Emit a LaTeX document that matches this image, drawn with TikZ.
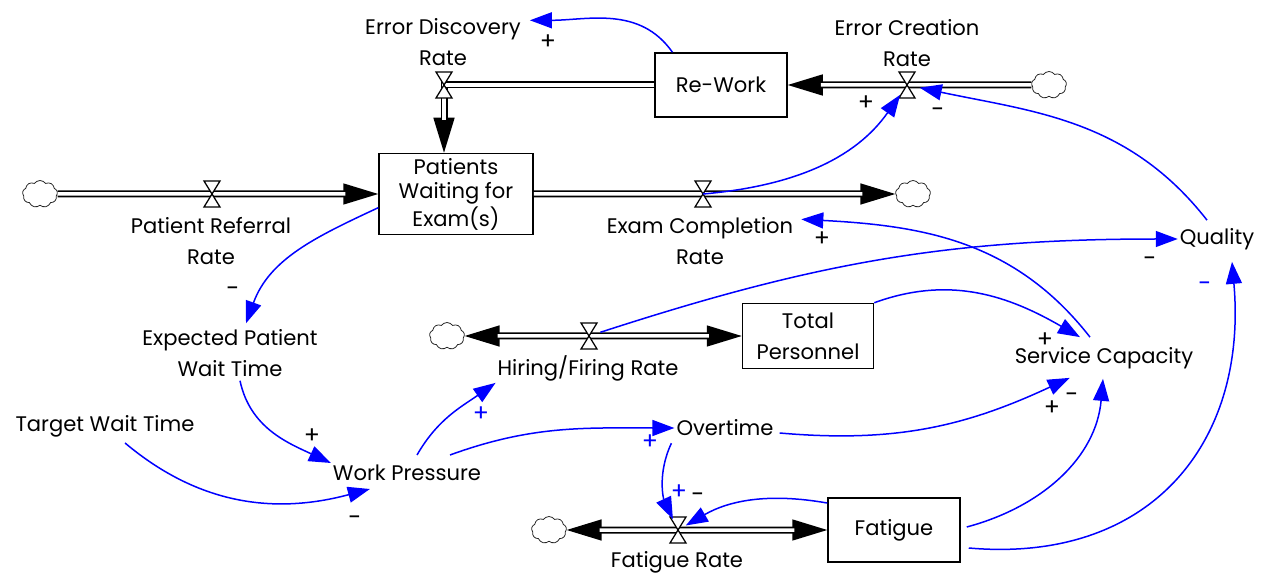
\documentclass[tikz,border=0pt]{standalone}
\usepackage{fontspec}
\setmainfont{Poppins}
\usetikzlibrary{arrows.meta,shapes.symbols,calc}
\begin{document}
\begin{tikzpicture}[x=0.2mm, y=0.2mm,
  font=\fontsize{12}{17.6}\selectfont,
  stock/.style={draw, line width=0.3mm, align=center, inner sep=0pt},
  var/.style={align=center, inner sep=1pt},
  cloudy/.style={cloud, cloud puffs=9, cloud puff arc=110, aspect=1.3, draw=black!85, line width=0.45pt, minimum width=7mm, minimum height=5.4mm, inner sep=0pt},
  pipe/.style={draw, double, line width=0.35mm, double distance=0.7mm},
  pipehead/.style={line width=0.3mm, -{Triangle[length=7mm,width=4.2mm]}},
  link/.style={blue, line width=0.3mm, -{Triangle[length=4.4mm,width=3.2mm]}},
  pol/.style={inner sep=0pt, font=\fontsize{13.5}{14}\selectfont},
  valve/.pic={\draw[fill=white, line width=0.25mm] (-8,13) -- (8,13) -- (-8,-13) -- (8,-13) -- cycle;}
]
\useasboundingbox (0,0) rectangle (1264,-574);

% stocks
\node[stock, minimum width=30.8mm, minimum height=16.2mm, font=\fontsize{12}{14.2}\selectfont] (PW) at (456,-194) {Patients\\Waiting for\\Exam(s)};
\node[stock, minimum width=26.4mm, minimum height=12.8mm] (RW) at (721,-85) {Re-Work};
\node[stock, minimum width=26.2mm, minimum height=13mm] (TP) at (808,-336) {Total\\Personnel};
\node[stock, minimum width=26.4mm, minimum height=12.8mm] (FA) at (894,-530) {Fatigue};

% sources and sinks
\node[cloudy] (C1) at (40,-194) {};
\node[cloudy] (C2) at (913,-194) {};
\node[cloudy] (C3) at (1049,-85) {};
\node[cloudy] (C4) at (447,-336) {};
\node[cloudy] (C5) at (549,-530) {};

% valves
\coordinate (V1) at (212,-194);
\coordinate (V2) at (703,-194);
\coordinate (V3) at (907,-85);
\coordinate (V4) at (444,-85);
\coordinate (V5) at (589,-336);
\coordinate (V6) at (678,-530);

% rates and auxiliaries
\node[var] (EDR) at (443,-42) {Error Discovery\\Rate};
\node[var] (ECR) at (907,-43) {Error Creation\\Rate};
\node[var] (PRR) at (211,-241) {Patient Referral\\Rate};
\node[var] (XCR) at (700,-241) {Exam Completion\\Rate};
\node[var] (EPW) at (230,-353) {Expected Patient\\Wait Time};
\node[var] (TWT) at (105,-426) {Target Wait Time};
\node[var] (WP) at (407,-473) {Work Pressure};
\node[var] (HFR) at (588,-368) {Hiring/Firing Rate};
\node[var] (OT) at (725,-428) {Overtime};
\node[var] (SC) at (1104,-358) {Service Capacity};
\node[var] (Q) at (1217,-239) {Quality};
\node[var] (FR) at (677,-562) {Fatigue Rate};

% flows
\draw[pipehead] (V1) -- (PW);
\draw[pipe, shorten >=6.6mm] (C1) -- (PW);
\draw[pipehead] (V2) -- (C2);
\draw[pipe, shorten >=6.6mm] (PW) -- (C2);
\draw[pipehead] (V3) -- (RW);
\draw[pipe, shorten >=6.6mm] (C3) -- (RW);
\draw[pipehead] (V4) -- (V4 |- PW.north);
\draw[pipe, shorten >=6.6mm] (RW) -- (V4) -- (V4 |- PW.north);
\draw[pipehead] (V5) -- (C4);
\draw[pipehead] (V5) -- (TP);
\draw[pipe, shorten <=6.6mm, shorten >=6.6mm] (C4) -- (TP);
\draw[pipehead] (V6) -- (C5);
\draw[pipehead] (V6) -- (FA);
\draw[pipe, shorten <=6.6mm, shorten >=6.6mm] (C5) -- (FA);
\foreach \v in {V1,V2,V3,V4,V5,V6}
  \pic at (\v) {valve};

% causal links
\draw[link] (RW.146) to[out=125, in=0] ($(EDR.north east)+(7,-4)$);
\node[pol] at (548,-42) {+};
\draw[link, shorten >=2.4mm] (V2) to[out=5, in=235] (V3);
\node[pol] at (866,-103) {+};
\draw[link, shorten >=2.6mm] ($(Q.north)+(-10,6)$) to[out=128, in=-12] (V3);
\node[pol] at (938,-113) {-};
\draw[link] (PW.190) to[out=205, in=70] ($(EPW.north)+(16,4)$);
\node[pol] at (233,-292) {-};
\draw[link] ($(EPW.south)+(10,-2)$) to[out=-78, in=155] (WP.north west);
\node[pol] at (312,-436) {+};
\draw[link] ($(TWT.south)+(20,-4)$) to[out=-40, in=195] ($(WP.south west)+(39,-6)$);
\node[pol] at (355,-521) {-};
\draw[link] ($(WP.north)+(10,8)$) to[out=60, in=215] (HFR.south west);
\node[pol, blue] at (481,-414) {+};
\draw[link] ($(WP.north)+(43,8)$) to[out=20, in=180] (OT.west);
\node[pol, blue] at (650,-442) {+};
\draw[link, shorten >=2.4mm] ($(OT.south west)+(-3,-5)$) to[out=245, in=115] (V6);
\node[pol, blue] at (679,-492) {+};
\draw[link, shorten >=1.8mm] (FA.158) to[out=170, in=30] (V6);
\node[pol] at (698,-498) {-};
\draw[link, shorten <=2.4mm] (V5) to[out=18, in=180] (Q.west);
\node[pol] at (1150,-262) {-};
\draw[link] (TP.north east) to[out=20, in=150] ($(SC.north)+(-24,8)$);
\node[pol] at (1045,-340) {+};
\draw[link] ($(SC.north)+(-14,8)$) to[out=128, in=-3] ($(XCR.north east)+(6,-4)$);
\node[pol] at (822,-239) {+};
\draw[link] ($(OT.east)+(4,-5)$) to[out=-5, in=205] ($(SC.south west)+(57,-7)$);
\node[pol] at (1052,-408) {+};
\draw[link] ($(FA.east)+(6,3)$) to[out=15, in=-95] ($(SC.south)+(-1,-8)$);
\node[pol] at (1072,-398) {-};
\draw[link] ($(FA.east)+(8,-18)$) to[out=-5, in=-85, looseness=1.2] ($(Q.south)+(15,-10)$);
\node[pol, blue] at (1205,-287) {-};
\end{tikzpicture}
\end{document}
